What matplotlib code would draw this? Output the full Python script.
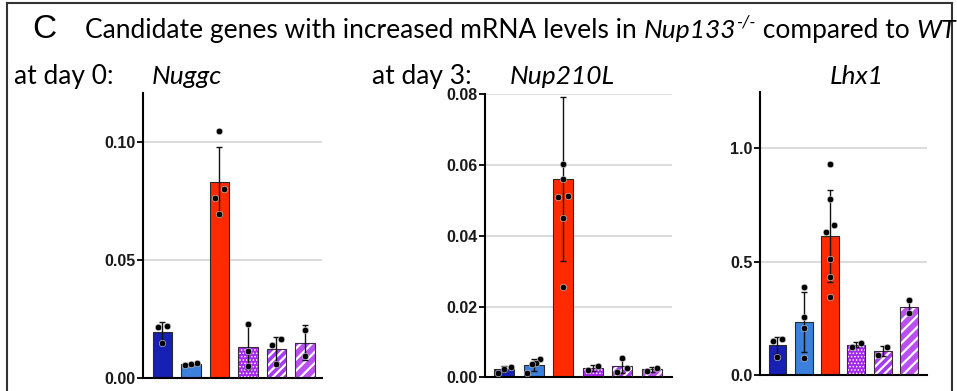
import numpy as np
import matplotlib
matplotlib.use("Agg")
import matplotlib.pyplot as plt
from matplotlib.lines import Line2D
from matplotlib.ticker import FormatStrFormatter, MultipleLocator

plt.rcParams['font.family'] = ['Lato', 'DejaVu Sans']
plt.rcParams['hatch.linewidth'] = 1.6

# bar styles: WT d0, WT d3, Nup133-/-, three rescue lines
bar_colors = ['#1620b4', '#3a80dc', '#ff2a00', '#a526ee', '#a63af0', '#bb50f0']
bar_hatches = [None, None, None, '.....', '////', '///']

# Nuggc, day 0
nuggc_mean = [0.0197, 0.0059, 0.0834, 0.0133, 0.0122, 0.0150]
nuggc_sd = [0.0040, 0.0004, 0.0147, 0.0096, 0.0054, 0.0073]
nuggc_pts = [[0.0218, 0.0220, 0.0147], [0.0062, 0.0055, 0.0060],
             [0.1048, 0.0803, 0.0763, 0.0697], [0.0230, 0.0116, 0.0051],
             [0.0164, 0.0140, 0.0059], [0.0204, 0.0095]]

# Nup210L, day 3
nup210l_mean = [0.0023, 0.0035, 0.0560, 0.0027, 0.0032, 0.0023]
nup210l_sd = [0.0008, 0.0017, 0.0231, 0.0008, 0.0021, 0.0007]
nup210l_pts = [[0.0030, 0.0024, 0.0013], [0.0051, 0.0041, 0.0039, 0.0011],
               [0.0602, 0.0561, 0.0511, 0.0513, 0.0450, 0.0254],
               [0.0021, 0.0032], [0.0054, 0.0025, 0.0016], [0.0027, 0.0019]]

# Lhx1, day 3
lhx1_mean = [0.131, 0.233, 0.614, 0.134, 0.105, 0.299]
lhx1_sd = [0.038, 0.132, 0.204, 0.012, 0.023, 0.030]
lhx1_pts = [[0.160, 0.149, 0.081], [0.390, 0.258, 0.208, 0.074],
            [0.931, 0.777, 0.660, 0.632, 0.511, 0.432, 0.343],
            [0.125, 0.141], [0.087, 0.122], [0.330, 0.272]]

W, H = 957, 391
fig = plt.figure(figsize=(W / 100, H / 100), dpi=100)
renderer = fig.canvas.get_renderer()


def px_axes(left, right, bottom, top):
    return fig.add_axes([left / W, 1 - bottom / H, (right - left) / W, (bottom - top) / H])


def spread(vals, thresh):
    # push points with nearly equal values sideways
    order = np.argsort(vals)
    offs = np.zeros(len(vals))
    clusters = [[order[0]]]
    for i in order[1:]:
        if vals[i] - vals[clusters[-1][-1]] < thresh:
            clusters[-1].append(i)
        else:
            clusters.append([i])
    for c in clusters:
        k = len(c)
        if k > 1:
            w = 0.17 if k == 2 else 0.22
            for j, idx in enumerate(c):
                offs[idx] = np.linspace(-w, w, k)[j]
    return offs


def panel(ax, mean, sd, pts, ymax, step, fmt, xlim, width):
    x = np.arange(len(mean))
    for xi, m, c, h in zip(x, mean, bar_colors, bar_hatches):
        if h:
            lw = 0.7 if '.' in h else 1.6
            with plt.rc_context({'hatch.linewidth': lw}):
                ax.bar(xi, m, width, color=c, edgecolor='white', hatch=h, linewidth=0, zorder=2)
            ax.bar(xi, m, width, facecolor='none', edgecolor='#3a2a40', linewidth=0.8, zorder=3)
        else:
            ax.bar(xi, m, width, color=c, edgecolor='#2a2a2a', linewidth=0.8, zorder=2)
    ax.errorbar(x, mean, yerr=sd, fmt='none', ecolor='#111111', elinewidth=1,
                capsize=2.5, capthick=1, zorder=4)
    for xi, p in zip(x, pts):
        p = np.array(p)
        ax.scatter(xi + spread(p, ymax * 0.035), p, s=22, color='black',
                   edgecolor='#dddddd', linewidth=0.4, zorder=5)
    ax.set_xlim(*xlim)
    ax.set_ylim(0, ymax)
    ax.yaxis.set_major_locator(MultipleLocator(step))
    ax.yaxis.set_major_formatter(FormatStrFormatter(fmt))
    ax.grid(axis='y', color='#d6d6d6', linewidth=1.2, zorder=0)
    ax.set_axisbelow(True)
    for s in ['top', 'right']:
        ax.spines[s].set_visible(False)
    ax.spines['left'].set_linewidth(1.5)
    ax.spines['bottom'].set_linewidth(1.5)
    ax.set_xticks([])
    ax.tick_params(axis='y', length=4, width=1.3, pad=1.5, labelsize=11.5, labelcolor='#1a1a1a')
    for t in ax.get_yticklabels():
        t.set_fontfamily(['Liberation Sans', 'DejaVu Sans'])
        t.set_fontweight('bold')


def text_run(x, y, pieces):
    # lay out a line of mixed-style text pieces left to right
    for s, size, style, dy in pieces:
        t = fig.text(x / W, 1 - (y - dy) / H, s, fontsize=size, style=style)
        x += t.get_window_extent(renderer).width


ax1 = px_axes(143, 322, 378, 93)
panel(ax1, nuggc_mean, nuggc_sd, nuggc_pts, 0.121, 0.05, '%.2f', (-0.68, 5.6), 0.68)

ax2 = px_axes(485, 672, 377.3, 94.3)
panel(ax2, nup210l_mean, nup210l_sd, nup210l_pts, 0.08, 0.02, '%.2f', (-0.65, 5.69), 0.67)

ax3 = px_axes(760, 927, 375, 91.7)
panel(ax3, lhx1_mean, lhx1_sd, lhx1_pts, 1.25, 0.5, '%.1f', (-0.665, 5.69), 0.68)

# headings
fig.text(32 / W, 1 - 38 / H, 'C', fontsize=24, family=['Liberation Sans', 'DejaVu Sans'])
text_run(85, 38, [('Candidate genes with increased mRNA levels in ', 19, 'normal', 0),
                  ('Nup133', 19, 'italic', 0),
                  ('-/-', 12.5, 'italic', 10),
                  (' compared to ', 19, 'normal', 0),
                  ('WT', 19, 'italic', 0)])
fig.text(14 / W, 1 - 84 / H, 'at day 0:', fontsize=19)
fig.text(152 / W, 1 - 84 / H, 'Nuggc', fontsize=19, style='italic')
fig.text(372 / W, 1 - 84 / H, 'at day 3:', fontsize=19)
fig.text(510 / W, 1 - 84 / H, 'Nup210L', fontsize=19, style='italic')
fig.text(830 / W, 1 - 84 / H, 'Lhx1', fontsize=19, style='italic')

# panel frame
for xs, ys in [([7, 7], [3, H + 5]), ([7, 952], [3, 3]), ([952, 952], [3, H + 5])]:
    fig.add_artist(Line2D([v / W for v in xs], [1 - v / H for v in ys],
                          color='#333333', linewidth=1.5))

fig.savefig('out.png', dpi=100)
